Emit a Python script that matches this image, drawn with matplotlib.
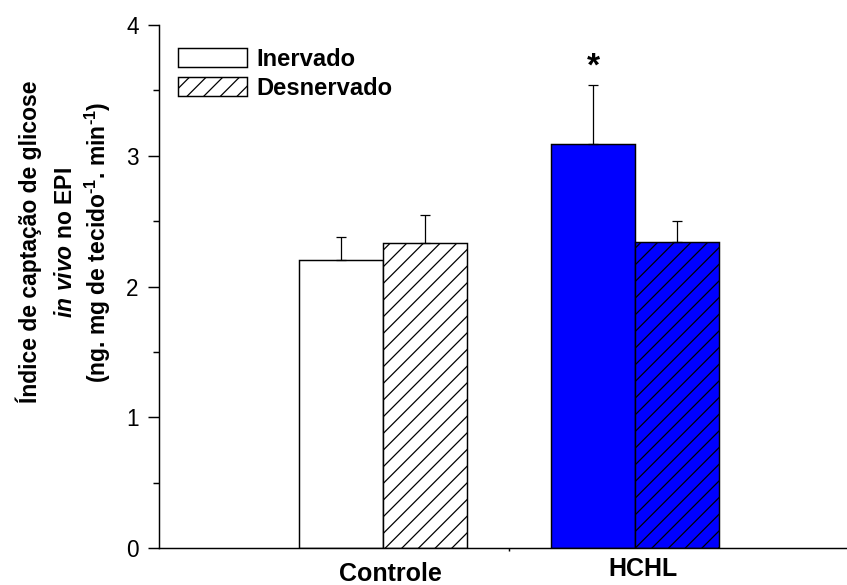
import matplotlib
matplotlib.use("Agg")
import matplotlib.pyplot as plt
import numpy as np

plt.rcParams['font.family'] = ['Liberation Sans', 'DejaVu Sans']
plt.rcParams['mathtext.fontset'] = 'custom'
plt.rcParams['mathtext.rm'] = 'Liberation Sans:bold'
plt.rcParams['mathtext.bf'] = 'Liberation Sans:bold'
plt.rcParams['mathtext.it'] = 'Liberation Sans:bold:italic'
plt.rcParams['hatch.linewidth'] = 0.6

grupos = ['Controle', 'HCHL']
inervado = [2.20, 3.09]
inervado_err = [0.18, 0.45]
desnervado = [2.33, 2.34]
desnervado_err = [0.22, 0.16]
cores = ['white', '#0000ff']

dpi = 150
fig = plt.figure(figsize=(847 / dpi, 585 / dpi), dpi=dpi)
ax = fig.add_axes([159 / 847, 1 - 548 / 585, 1 - 159 / 847, (548 - 25) / 585])

x = np.arange(1, len(grupos) + 1)
w = 1 / 3

b1 = ax.bar(x - w / 2, inervado, w, color=cores, edgecolor='black', linewidth=0.7,
            yerr=[np.zeros(2), inervado_err], capsize=2.4,
            error_kw=dict(ecolor='black', elinewidth=0.6, capthick=0.6))
b2 = ax.bar(x + w / 2, desnervado, w, color=cores, edgecolor='black', linewidth=0.7,
            hatch='///', yerr=[np.zeros(2), desnervado_err], capsize=2.4,
            error_kw=dict(ecolor='black', elinewidth=0.6, capthick=0.6))

# significance mark over HCHL inervado
ax.text(x[1] - w / 2, inervado[1] + inervado_err[1] + 0.14, '*', ha='center', va='center',
        fontsize=16, fontweight='bold')

ax.set_xlim(1 - 224 / 252, 2 + 212 / 252)
ax.set_ylim(0, 4)
ax.set_yticks([0, 1, 2, 3, 4])
ax.set_yticks(np.arange(0.5, 4, 1), minor=True)
ax.tick_params(axis='y', which='major', direction='out', length=5.3, width=0.7,
               labelsize=10.8, pad=4.5)
ax.tick_params(axis='y', which='minor', direction='out', length=3, width=0.7)
ax.set_xticks([])
ax.set_xticks([1.5], minor=True)
ax.tick_params(axis='x', which='minor', direction='out', length=1.5, width=0.7)
for s in ['top', 'right']:
    ax.spines[s].set_visible(False)
for s in ['left', 'bottom']:
    ax.spines[s].set_linewidth(0.7)

# category labels
tr = ax.get_xaxis_transform()
ax.text(x[0] + 0.03, -0.026, grupos[0], transform=tr, ha='center', va='top',
        fontsize=12, fontweight='bold')
ax.text(x[1] + 0.03, -0.017, grupos[1], transform=tr, ha='center', va='top',
        fontsize=12, fontweight='bold')

# y axis label, three lines
fs_lab = 11
fig.text(0.034, 0.586, 'Índice de captação de glicose', rotation=90, ha='center', va='center',
         fontsize=fs_lab, fontweight='bold')
fig.text(0.077, 0.586, r'$\mathit{in\ vivo}$ no EPI', rotation=90, ha='center', va='center',
         fontsize=fs_lab, fontweight='bold')
fig.text(0.116, 0.586, r'(ng. mg de tecido$^{\text{-1}}$. min$^{\text{-1}}$)', rotation=90,
         ha='center', va='center', fontsize=fs_lab, fontweight='bold')

leg = ax.legend([b1[0], b2[0]], ['Inervado', 'Desnervado'], loc='upper left',
                bbox_to_anchor=(0.0, 0.992), frameon=False,
                prop=dict(weight='bold', size=11.4), handlelength=2.9, handleheight=0.85,
                handletextpad=0.4, labelspacing=0.25, borderaxespad=0.4)
leg.legend_handles[0].set_facecolor('white')
leg.legend_handles[1].set_facecolor('white')

fig.savefig('out.png', dpi=dpi)
